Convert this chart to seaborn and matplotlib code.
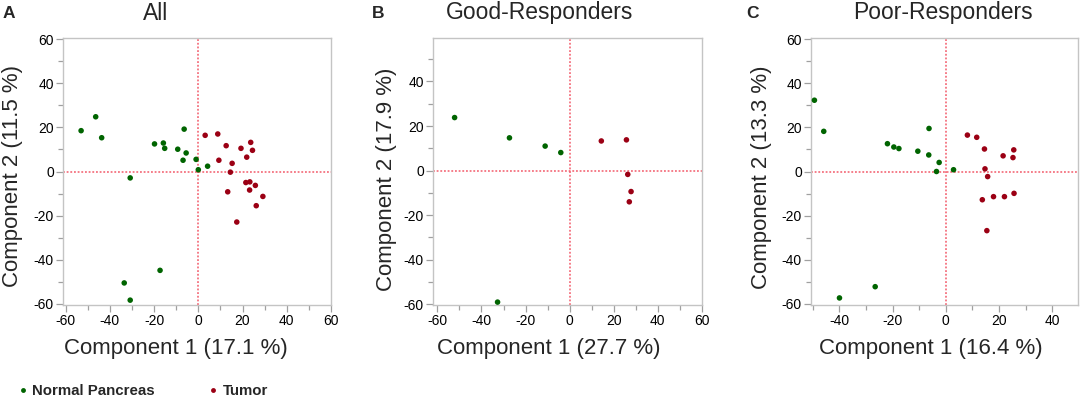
import matplotlib
matplotlib.use("Agg")
import matplotlib.pyplot as plt
from matplotlib.lines import Line2D
from matplotlib.ticker import MultipleLocator
import pandas as pd
import seaborn as sns

sns.set_theme(style="ticks")
plt.rcParams["font.family"] = ["Liberation Sans", "DejaVu Sans"]
plt.rcParams["axes.unicode_minus"] = False

GREEN = "#006400"
RED = "#9b0014"
GROUPS = ["Normal Pancreas", "Tumor"]

# ---- panel A: All ----
all_normal_x = [-53.0, -46.4, -43.7, -19.8, -15.8, -15.2, -9.3, -6.4, -5.5, -6.9, -1.0, 0.0, 4.2,
                -30.8, -17.3, -33.5, -30.8]
all_normal_y = [18.5, 24.8, 15.3, 12.5, 12.9, 10.5, 10.1, 19.2, 8.4, 5.1, 5.5, 0.8, 2.4,
                -2.9, -44.8, -50.5, -58.3]
all_tumor_x = [3.1, 8.8, 12.6, 9.3, 15.3, 14.5, 19.3, 23.7, 24.5, 21.9, 21.5, 23.3, 25.8, 23.2,
               13.3, 29.2, 26.2, 17.4]
all_tumor_y = [16.4, 17.0, 11.7, 5.1, 3.7, -0.3, 10.5, 13.2, 9.6, 6.5, -5.0, -4.7, -6.3, -8.4,
               -9.2, -11.3, -15.5, -22.9]

# ---- panel B: Good-Responders ----
good_normal_x = [-52.2, -27.3, -11.1, -4.0, -32.7]
good_normal_y = [23.8, 14.7, 11.0, 8.1, -59.0]
good_tumor_x = [14.4, 25.8, 26.4, 27.9, 27.1]
good_tumor_y = [13.3, 13.8, -1.7, -9.4, -14.0]

# ---- panel C: Poor-Responders ----
poor_normal_x = [-49.3, -45.8, -21.9, -19.5, -17.6, -10.5, -6.3, -6.4, -2.5, -3.5, 2.9, -39.9, -26.5]
poor_normal_y = [32.3, 18.2, 12.6, 11.1, 10.4, 9.2, 19.5, 7.5, 4.1, 0.0, 0.8, -57.3, -52.2]
poor_tumor_x = [8.1, 11.6, 14.5, 21.5, 25.5, 25.2, 14.7, 15.7, 25.6, 13.7, 17.9, 22.0, 15.4]
poor_tumor_y = [16.5, 15.5, 10.2, 7.1, 9.8, 6.3, 1.2, -2.3, -9.9, -12.8, -11.4, -11.4, -26.8]

titles = ["All", "Good-Responders", "Poor-Responders"]
letters = ["A", "B", "C"]
xlabels = ["Component 1 (17.1 %)", "Component 1 (27.7 %)", "Component 1 (16.4 %)"]
ylabels = ["Component 2 (11.5 %)", "Component 2 (17.9 %)", "Component 2 (13.3 %)"]


def make_df(nx, ny, tx, ty):
    return pd.DataFrame({
        "pc1": nx + tx,
        "pc2": ny + ty,
        "group": [GROUPS[0]] * len(nx) + [GROUPS[1]] * len(tx),
    })


panels = [
    make_df(all_normal_x, all_normal_y, all_tumor_x, all_tumor_y),
    make_df(good_normal_x, good_normal_y, good_tumor_x, good_tumor_y),
    make_df(poor_normal_x, poor_normal_y, poor_tumor_x, poor_tumor_y),
]

# layout (pixel-matched)
axes_rects = [(0.0582, 0.2375, 0.2477, 0.6675),
              (0.4002, 0.2375, 0.2486, 0.6675),
              (0.7495, 0.2375, 0.2468, 0.6675)]
xlims = [(-61.2, 60.0), (-62.0, 60.1), (-50.6, 49.6)]
ylims = [(-60.5, 60.5), (-60.3, 59.5), (-60.5, 60.5)]
title_x = [156 / 1082, 540 / 1082, 943 / 1082]
letter_x = [3 / 1082, 372 / 1082, 746 / 1082]
xlab_pos = [0.42, 0.43, 0.45]
ylab_pos = [(-0.149, 0.485), (-0.134, 0.47), (-0.146, 0.48)]

fig = plt.figure(figsize=(10.82, 4.0), dpi=100)
palette = {GROUPS[0]: GREEN, GROUPS[1]: RED}

for i, df in enumerate(panels):
    ax = fig.add_axes(axes_rects[i])
    ax.axhline(0, color="#f25a6a", lw=1.1, ls=(0, (1.2, 1.2)), zorder=1)
    ax.axvline(0, color="#f25a6a", lw=1.1, ls=(0, (1.2, 1.2)), zorder=1)
    sns.scatterplot(data=df, x="pc1", y="pc2", hue="group", palette=palette,
                    s=16, linewidth=0, legend=False, ax=ax, zorder=3)
    ax.set_xlim(*xlims[i])
    ax.set_ylim(*ylims[i])
    ax.xaxis.set_major_locator(MultipleLocator(20))
    ax.yaxis.set_major_locator(MultipleLocator(20))
    ax.xaxis.set_minor_locator(MultipleLocator(10))
    ax.yaxis.set_minor_locator(MultipleLocator(10))
    ax.tick_params(which="major", length=5, width=0.9, color="#a0a0a0",
                   labelsize=10, labelcolor="black", pad=1.5)
    ax.tick_params(which="minor", length=3.5, width=0.9, color="#a0a0a0")
    for sp in ax.spines.values():
        sp.set_color("#c4c4c4")
        sp.set_linewidth(1.0)
    ax.set_xlabel(xlabels[i], fontsize=16, va="top")
    ax.set_ylabel(ylabels[i], fontsize=16, va="bottom")
    ax.xaxis.set_label_coords(xlab_pos[i], -0.125)
    ax.yaxis.set_label_coords(*ylab_pos[i])
    fig.text(title_x[i], 1 - 13 / 400, titles[i], fontsize=16.5, ha="center", va="center")
    fig.text(letter_x[i], 1 - 13 / 400, letters[i], fontsize=12.5, fontweight="bold",
             ha="left", va="center")

handles = [Line2D([], [], marker="o", ls="", markersize=3.5, markeredgewidth=0,
                  color=palette[g]) for g in GROUPS]
fig.legend(handles, GROUPS, loc="center left", bbox_to_anchor=(18 / 1082, 9 / 400),
           ncol=2, frameon=False, handlelength=0.6, handletextpad=0.35,
           columnspacing=3.6, prop={"weight": "bold", "size": 10.8}, borderaxespad=0,
           borderpad=0)

fig.savefig("out.png", dpi=100)
plt.close(fig)
